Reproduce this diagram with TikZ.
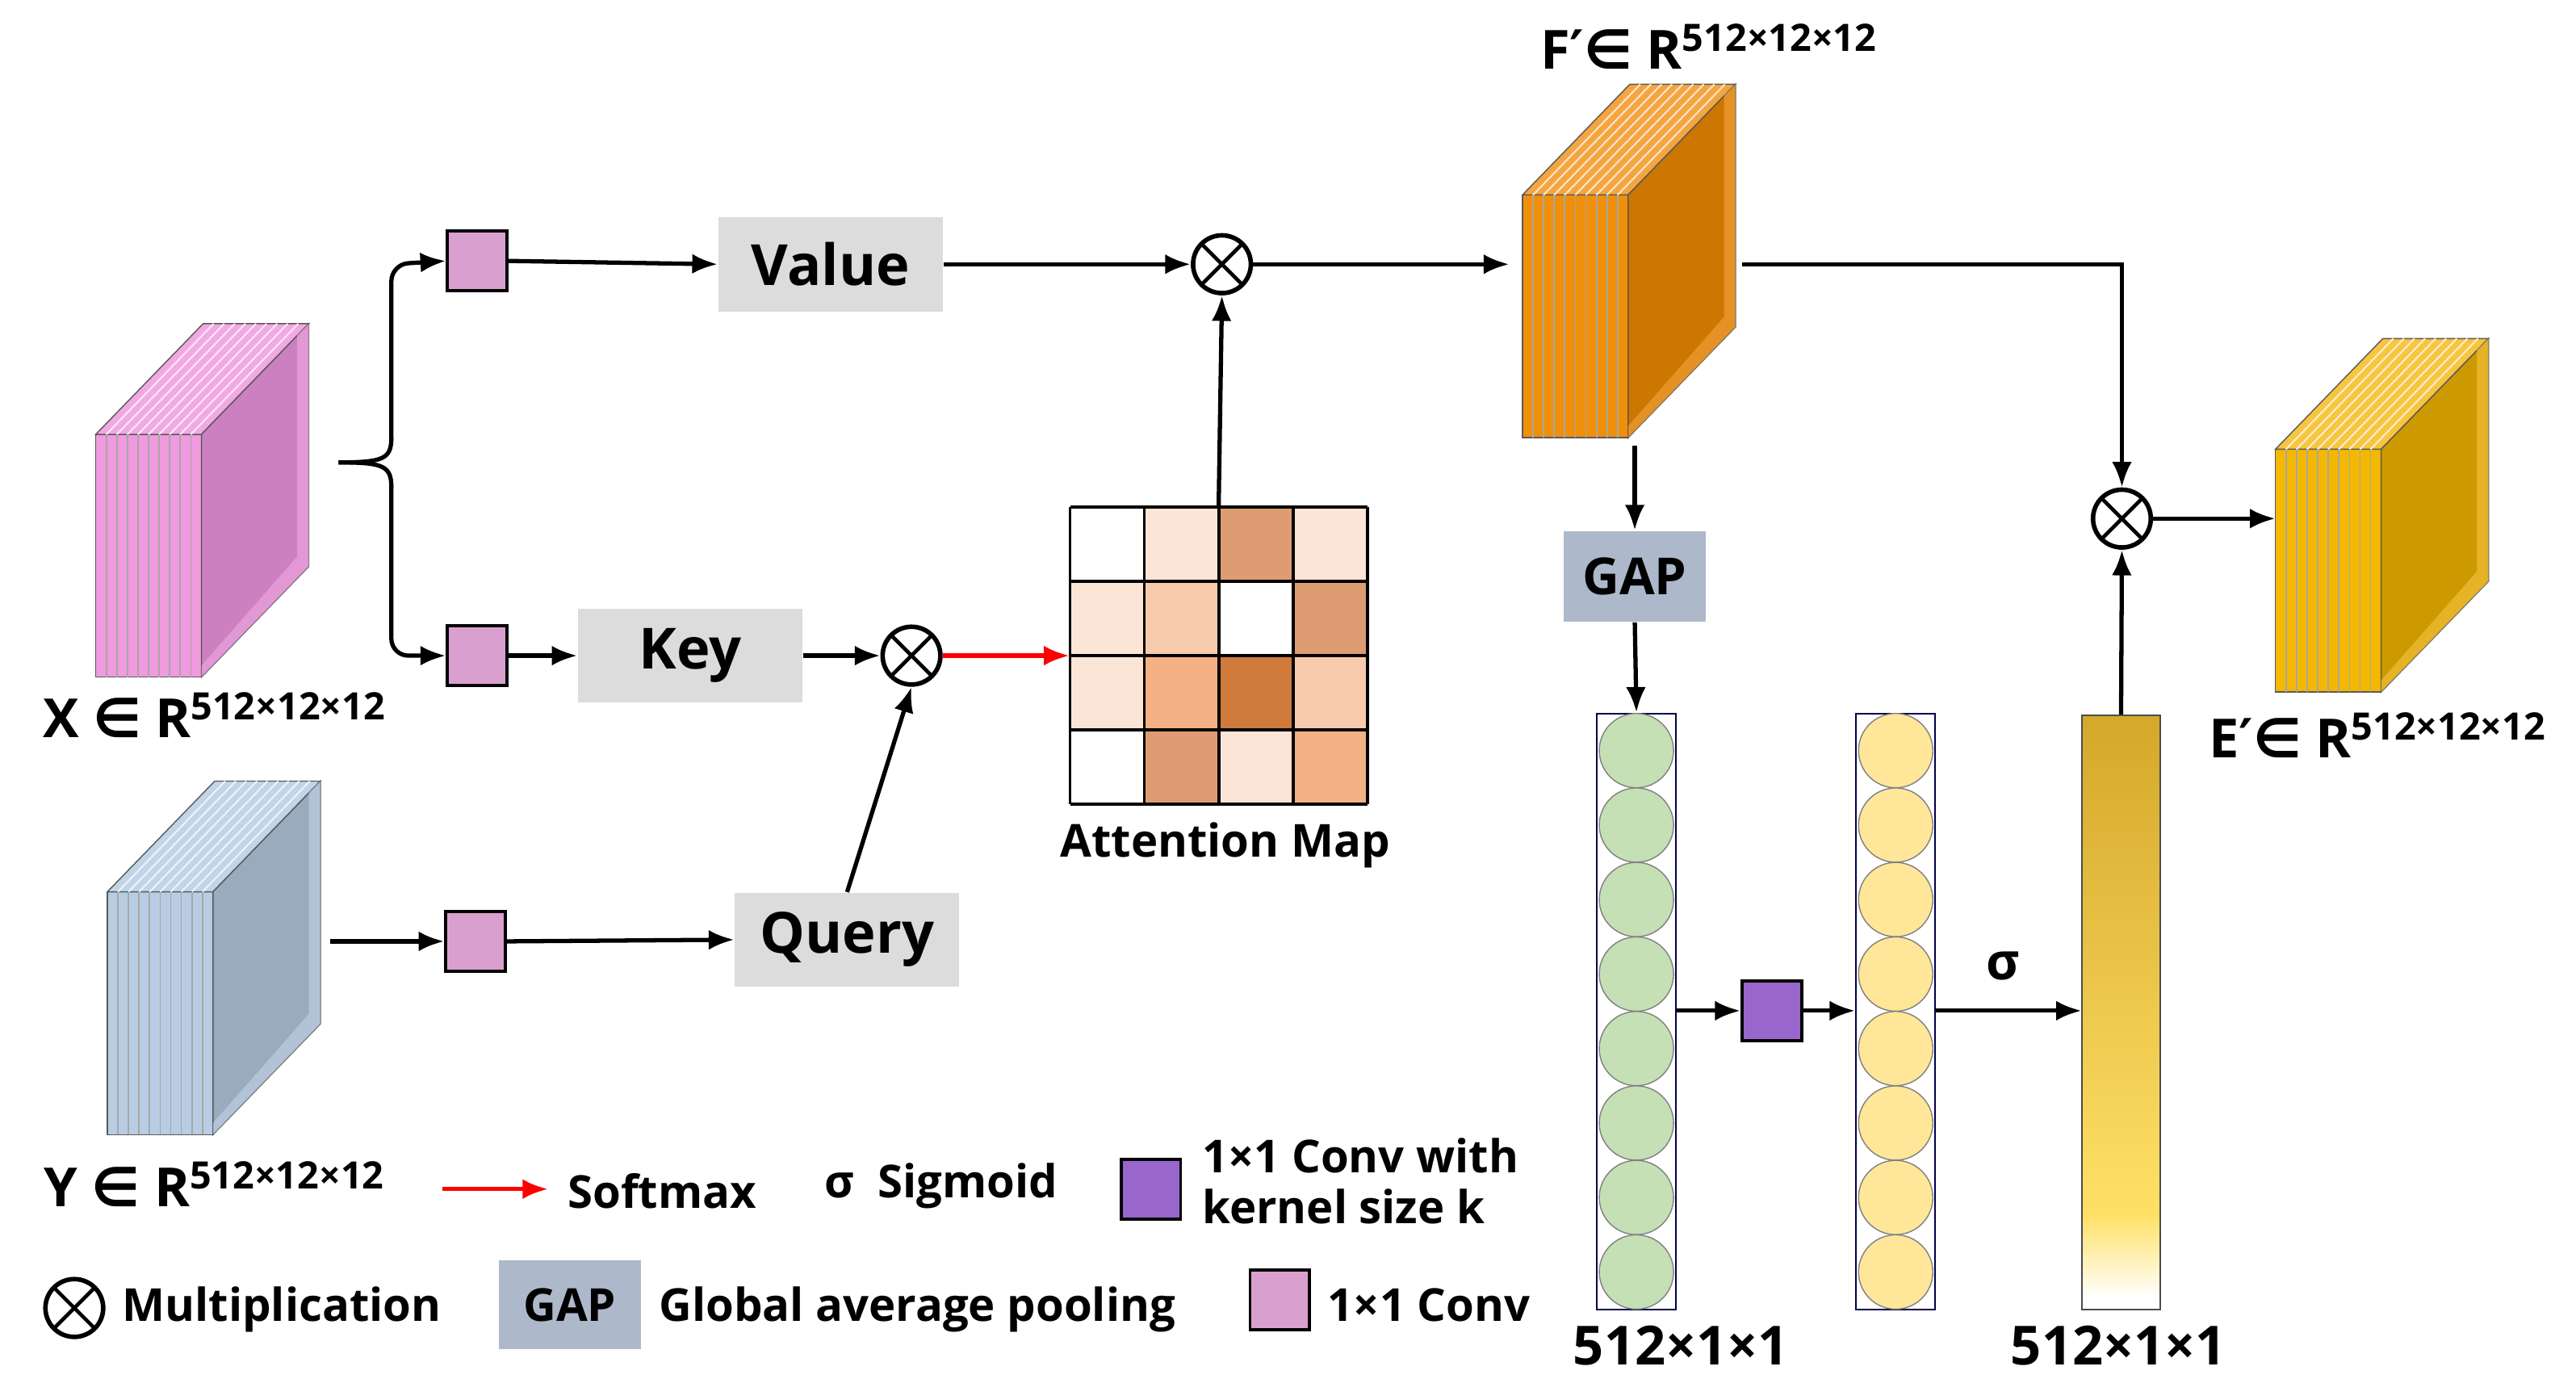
\documentclass[tikz,border=0pt]{standalone}
\usepackage{fontspec}
\setmainfont{Open Sans}
\newfontfamily\sym{DejaVu Sans}
\usetikzlibrary{arrows.meta}
\definecolor{convp}{HTML}{D9A0CF}
\definecolor{purp}{HTML}{9966CC}
\definecolor{grn}{HTML}{C5E0B4}
\definecolor{ylw}{HTML}{FFE699}
\definecolor{gapc}{HTML}{ADB9CA}
\definecolor{grayb}{HTML}{DCDCDC}
\definecolor{a1}{HTML}{FBE5D6}
\definecolor{a2}{HTML}{F8CBAD}
\definecolor{a3}{HTML}{F4B183}
\definecolor{a4}{HTML}{DE9C72}
\definecolor{a5}{HTML}{D07A3C}
\definecolor{goldA}{HTML}{FFE066}
\definecolor{goldB}{HTML}{D4A82A}
\definecolor{xf}{HTML}{F09BDF}\definecolor{xs}{HTML}{CC80C0}\definecolor{xt}{HTML}{F2A8E3}
\definecolor{yf}{HTML}{B8CDE3}\definecolor{ys}{HTML}{9AABBE}\definecolor{yt}{HTML}{C2D4E8}
\definecolor{ff}{HTML}{F0900A}\definecolor{fs}{HTML}{CC7700}\definecolor{ft}{HTML}{F5A540}
\definecolor{ef}{HTML}{F5B800}\definecolor{es}{HTML}{CC9A00}\definecolor{et}{HTML}{F7C540}
\pgfdeclareverticalshading{goldbar}{100bp}{color(0bp)=(white); color(26bp)=(white); color(33bp)=(goldA); color(75bp)=(goldB); color(100bp)=(goldB)}
\tikzset{
  arr/.style={line width=1.5pt,-{Latex[length=9pt,width=7pt]}},
  conv/.style={draw,line width=1.1pt,fill=convp,minimum size=36*0.02045cm,inner sep=0},
  gbox/.style={fill=grayb,minimum width=136*0.02045cm,minimum height=57*0.02045cm,font=\bfseries\fontsize{20}{22}\selectfont},
  mult/.style={draw,circle,line width=1.6pt,minimum size=35*0.02045cm,inner sep=0,path picture={\draw[line width=1.3pt](path picture bounding box.north west)--(path picture bounding box.south east)(path picture bounding box.north east)--(path picture bounding box.south west);}},
  lbl/.style={font=\bfseries\fontsize{19}{21}\selectfont},
  leg/.style={font=\bfseries\fontsize{16}{18}\selectfont},
}
\newcommand{\featcube}[6]{% name, x, y, front, side, top
  \fill[#4,draw=gray!70!black,line width=0.4pt] (#2,#3) rectangle ({#2+64},{#3+147});
  \fill[#6,draw=gray!70!black,line width=0.4pt] (#2,#3)--({#2+65},{#3-67})--({#2+129},{#3-67})--({#2+64},#3)--cycle;
  \fill[#5,draw=gray!70!black,line width=0.4pt] ({#2+64},#3)--({#2+129},{#3-67})--({#2+129},{#3+80})--({#2+64},{#3+147})--cycle;
  \fill[#6,opacity=0.6] ({#2+122},{#3-60})--({#2+129},{#3-67})--({#2+129},{#3+80})--({#2+64},{#3+147})--({#2+64},{#3+140})--({#2+122},{#3+74})--cycle;
  \foreach \i in {1,...,9}{
    \draw[black!35,line width=0.5pt] ({#2+\i*6.4},#3)--({#2+\i*6.4},{#3+147});
    \draw[white!70!#6,line width=0.6pt] ({#2+\i*6.4},#3)--({#2+\i*6.4+65},{#3-67});}
  \coordinate (#1-w) at (#2,{#3+73});
}
\begin{document}
\begin{tikzpicture}[x=0.02045cm,y=-0.02045cm]
\useasboundingbox (0,0) rectangle (1560,835);
% cubes
\featcube{X}{58}{263}{xf}{xs}{xt}
\featcube{Y}{65}{540}{yf}{ys}{yt}
\featcube{F}{922}{118}{ff}{fs}{ft}
\featcube{E}{1378}{272}{ef}{es}{et}
\node[lbl] (lx) at (130,433) {X {\sym∈} R\textsuperscript{512×12×12}};
\node[lbl] (ly) at (130,717) {Y {\sym∈} R\textsuperscript{512×12×12}};
\node[lbl] (lf) at (1035,28) {F{\sym′}{\sym∈} R\textsuperscript{512×12×12}};
\node[lbl] (le) at (1440,445) {E{\sym′}{\sym∈} R\textsuperscript{512×12×12}};
% convs and boxes
\node[conv] (c1) at (289,158) {};
\node[conv] (c2) at (289,397) {};
\node[conv] (c3) at (288,570) {};
\node[gbox] (val) at (503,160) {Value};
\node[gbox] (key) at (418,397) {Key};
\node[gbox] (qry) at (513,569) {Query};
\node[mult] (m1) at (740,160) {};
\node[mult] (m2) at (552,397) {};
\node[mult] (m3) at (1285,314) {};
% brace
\coordinate (bt) at (205,280);
\draw[line width=1.5pt] (bt) .. controls (232,280) and (237,278) .. (237,265);
\draw[line width=1.5pt] (bt) .. controls (232,280) and (237,282) .. (237,295);
\draw[arr,rounded corners=6pt] (237,266) -- (237,160) -- (c1.west);
\draw[arr,rounded corners=6pt] (237,294) -- (237,397) -- (c2.west);
% attention map
\foreach \r/\row in {0/{white,a1,a4,a1},1/{a1,a2,white,a4},2/{a1,a3,a5,a2},3/{white,a4,a1,a3}}{
  \foreach \c [count=\k from 0] in \row {
    \fill[\c] ({648+\k*45},{307+\r*45}) rectangle ++(45,45);}}
\foreach \k in {0,...,4}{
  \draw[line width=1.1pt] ({648+\k*45},307) -- ({648+\k*45},487);
  \draw[line width=1.1pt] (648,{307+\k*45}) -- (828,{307+\k*45});}
\node[inner sep=0,minimum width=180*0.02045cm,minimum height=180*0.02045cm] (att) at (738,397) {};
\node[leg] (attl) at (742,512) {Attention Map};
% arrows
\coordinate (yo) at (200,570);
\draw[arr] (c1.east) -- (val.west);
\draw[arr] (c2.east) -- (key.west);
\draw[arr] (key.east) -- (m2.west);
\draw[arr] (yo) -- (c3.west);
\draw[arr] (c3.east) -- (qry.west);
\draw[arr] (qry.north) -- (m2.south);
\draw[line width=1.5pt,red,-{Latex[length=9pt,width=7pt]}] (m2.east) -- (att.west);
\draw[arr] (val.east) -- (m1.west);
\draw[arr] (att.north) -- (m1.south);
\coordinate (fin) at (914,160);
\coordinate (fout) at (1055,160);
\draw[arr] (m1.east) -- (fin);
\draw[arr] (fout) -| (m3.north);
\draw[arr] (m3.east) -- (m3.east -| E-w);
% GAP branch
\node[fill=gapc,minimum width=86*0.02045cm,minimum height=55*0.02045cm,font=\bfseries\fontsize{18}{20}\selectfont] (gap) at (990,349) {GAP};
\draw[arr] (990,270) -- (gap.north);
\node[draw=black!70!blue,line width=0.6pt,minimum width=48*0.02045cm,minimum height=361*0.02045cm,inner sep=0] (gcol) at (991,612.5) {};
\node[draw=black!70!blue,line width=0.6pt,minimum width=48*0.02045cm,minimum height=361*0.02045cm,inner sep=0] (ycol) at (1148,612.5) {};
\foreach \i in {0,...,7}{
  \draw[fill=grn,draw=gray] (991,{454.5+\i*45.1}) circle (22.5);
  \draw[fill=ylw,draw=gray] (1148,{454.5+\i*45.1}) circle (22.5);}
\draw[arr] (gap.south) -- (gcol.north);
\node[draw,line width=1.1pt,fill=purp,minimum size=36*0.02045cm,inner sep=0] (pc) at (1073,612) {};
\draw[arr] (gcol.east |- pc) -- (pc.west);
\draw[arr] (pc.east) -- (ycol.west |- pc);
\shade[shading=goldbar] (1261,433) rectangle (1308,793);
\draw[black!70,line width=0.6pt] (1261,433) rectangle (1308,793);
\node[inner sep=0,minimum width=47*0.02045cm,minimum height=360*0.02045cm] (gold) at (1284.5,613) {};
\draw[arr] (ycol.east |- pc) -- (gold.west |- pc);
\node[font=\bfseries\fontsize{18}{20}\selectfont] (sig) at (1213,585) {σ};
\draw[arr] (gold.north) -- (m3.south);
\node[lbl] (d1) at (1018,815) {512×1×1};
\node[lbl] (d2) at (1283,815) {512×1×1};
% legend
\coordinate (ra) at (268,720);
\coordinate (rb) at (332,720);
\draw[line width=1.5pt,red,-{Latex[length=9pt,width=7pt]}] (ra) -- (rb);
\node[leg] (sm) at (401,721) {Softmax};
\node[leg] (sg) at (570,718) {σ\ \ Sigmoid};
\node[draw,line width=1.1pt,fill=purp,minimum size=36*0.02045cm,inner sep=0] (lp) at (697,720) {};
\node[leg,align=left,anchor=west] (lpt) at (722,715) {1×1 Conv with\\kernel size k};
\node[mult] (lm) at (45,792) {};
\node[leg,anchor=west] (lmt) at (68,793) {Multiplication};
\node[fill=gapc,minimum width=86*0.02045cm,minimum height=54*0.02045cm,font=\bfseries\fontsize{16}{18}\selectfont] (lg) at (345,790) {GAP};
\node[leg,anchor=west] (lgt) at (393,793) {Global average pooling};
\node[conv] (lc) at (775,787) {};
\node[leg,anchor=west] (lct) at (798,790) {1×1 Conv};
\end{tikzpicture}
\end{document}
